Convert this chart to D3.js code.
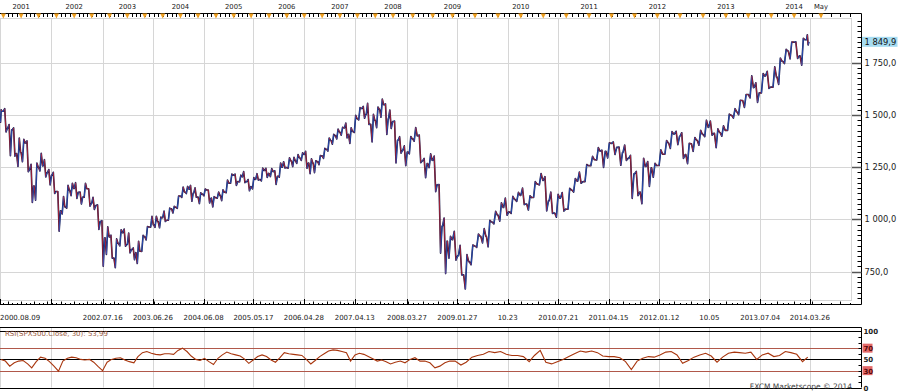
<!DOCTYPE html>
<html>
<head>
<meta charset="utf-8">
<script src="https://cdn.jsdelivr.net/npm/d3@7"></script>
<style>
  html, body { margin: 0; padding: 0; background: #fff; }
  svg { display: block; font-family: "DejaVu Sans", Verdana, sans-serif; }
</style>
</head>
<body>
<svg id="chart" width="900" height="392"></svg>
<script>
// monthly OHLC, Aug 2000 .. Mar 2014 (SPX500)
const firstMonth = new Date(2000, 7, 1);
const endMonth = new Date(2014, 3, 1);

const opens = [
  1472, 1518, 1437, 1429, 1315,
  1320, 1366, 1240, 1160, 1250, 1256, 1224, 1211, 1134, 1041, 1060, 1140,
  1148, 1130, 1107, 1147, 1077, 1067, 990, 912, 916, 815, 886, 936,
  880, 856, 841, 848, 917, 964, 975, 990, 1008, 996, 1051, 1058,
  1112, 1131, 1145, 1126, 1107, 1121, 1141, 1102, 1104, 1115, 1130, 1174,
  1212, 1181, 1204, 1181, 1157, 1192, 1191, 1234, 1220, 1229, 1207, 1250,
  1248, 1280, 1281, 1295, 1311, 1270, 1270, 1277, 1304, 1336, 1378, 1401,
  1418, 1438, 1407, 1421, 1482, 1531, 1503, 1455, 1474, 1527, 1549, 1481,
  1468, 1379, 1331, 1323, 1386, 1400, 1280, 1267, 1283, 1166, 969, 896,
  903, 826, 735, 798, 873, 919, 919, 988, 1021, 1057, 1036, 1096,
  1115, 1074, 1105, 1169, 1187, 1089, 1031, 1102, 1049, 1141, 1183, 1181,
  1258, 1286, 1327, 1326, 1364, 1345, 1321, 1292, 1219, 1131, 1253, 1247,
  1258, 1312, 1366, 1409, 1398, 1310, 1362, 1379, 1407, 1441, 1412, 1416,
  1426, 1498, 1515, 1569, 1598, 1631, 1606, 1686, 1633, 1682, 1757, 1806,
  1848, 1783, 1860
];
const highs = [
  1525, 1530, 1454, 1438, 1389,
  1384, 1376, 1264, 1270, 1316, 1286, 1239, 1226, 1134, 1110, 1163, 1173,
  1176, 1131, 1173, 1147, 1106, 1070, 994, 965, 925, 907, 951, 954,
  935, 864, 896, 924, 966, 1015, 1015, 1011, 1040, 1054, 1063, 1112,
  1155, 1158, 1163, 1151, 1128, 1146, 1141, 1109, 1131, 1142, 1188, 1217,
  1217, 1212, 1229, 1191, 1200, 1219, 1246, 1245, 1243, 1233, 1270, 1276,
  1295, 1297, 1310, 1319, 1326, 1290, 1281, 1306, 1340, 1390, 1407, 1432,
  1441, 1461, 1439, 1498, 1535, 1541, 1556, 1503, 1538, 1576, 1553, 1524,
  1471, 1396, 1352, 1397, 1440, 1404, 1292, 1314, 1303, 1167, 1007, 919,
  943, 876, 832, 878, 930, 956, 996, 1039, 1080, 1102, 1111, 1130,
  1150, 1113, 1181, 1220, 1205, 1131, 1120, 1129, 1149, 1196, 1227, 1263,
  1302, 1344, 1332, 1367, 1371, 1346, 1356, 1307, 1230, 1293, 1277, 1269,
  1333, 1378, 1420, 1422, 1415, 1364, 1392, 1427, 1475, 1471, 1434, 1448,
  1504, 1530, 1570, 1598, 1687, 1654, 1698, 1709, 1730, 1772, 1814, 1849,
  1850, 1867, 1884
];
const lows = [
  1465, 1419, 1305, 1303, 1254,
  1276, 1228, 1081, 1092, 1232, 1203, 1165, 1124, 944, 1026, 1054, 1114,
  1101, 1074, 1106, 1063, 1048, 952, 776, 833, 815, 769, 873, 872,
  840, 807, 789, 847, 902, 963, 962, 960, 990, 996, 1031, 1053,
  1105, 1124, 1087, 1106, 1076, 1113, 1079, 1060, 1102, 1090, 1128, 1173,
  1163, 1180, 1176, 1137, 1146, 1188, 1184, 1201, 1205, 1168, 1202, 1246,
  1245, 1253, 1268, 1282, 1245, 1219, 1224, 1262, 1292, 1327, 1360, 1385,
  1403, 1390, 1364, 1416, 1476, 1484, 1454, 1371, 1439, 1489, 1407, 1435,
  1270, 1317, 1257, 1314, 1374, 1272, 1200, 1248, 1133, 839, 741, 815,
  805, 735, 667, 783, 866, 888, 869, 979, 992, 1020, 1029, 1086,
  1071, 1045, 1105, 1165, 1041, 1029, 1011, 1040, 1049, 1131, 1173, 1181,
  1257, 1284, 1249, 1294, 1311, 1259, 1282, 1101, 1114, 1075, 1158, 1202,
  1258, 1312, 1340, 1358, 1292, 1267, 1326, 1355, 1396, 1403, 1343, 1398,
  1426, 1485, 1501, 1536, 1581, 1560, 1605, 1627, 1633, 1646, 1746, 1768,
  1770, 1738, 1835
];
const closes = [
  1517.7, 1436.5, 1429.4, 1315.2, 1320.3,
  1366.0, 1239.9, 1160.3, 1249.5, 1255.8, 1224.4, 1211.2, 1133.6, 1040.9, 1059.8, 1139.5, 1148.1,
  1130.2, 1106.7, 1147.4, 1076.9, 1067.1, 989.8, 911.6, 916.1, 815.3, 885.8, 936.3, 879.8,
  855.7, 841.2, 848.2, 916.9, 963.6, 974.5, 990.3, 1008.0, 996.0, 1050.7, 1058.2, 1111.9,
  1131.1, 1144.9, 1126.2, 1107.3, 1120.7, 1140.8, 1101.7, 1104.2, 1114.6, 1130.2, 1173.8, 1211.9,
  1181.3, 1203.6, 1180.6, 1156.9, 1191.5, 1191.3, 1234.2, 1220.3, 1228.8, 1207.0, 1249.5, 1248.3,
  1280.1, 1280.7, 1294.9, 1310.6, 1270.1, 1270.2, 1276.7, 1303.8, 1335.9, 1377.9, 1400.6, 1418.3,
  1438.2, 1406.8, 1420.9, 1482.4, 1530.6, 1503.4, 1455.3, 1474.0, 1526.8, 1549.4, 1481.1, 1468.4,
  1378.6, 1330.6, 1322.7, 1385.6, 1400.4, 1280.0, 1267.4, 1282.8, 1166.4, 968.8, 896.2, 903.3,
  825.9, 735.1, 797.9, 872.8, 919.1, 919.3, 987.5, 1020.6, 1057.1, 1036.2, 1095.6, 1115.1,
  1073.9, 1104.5, 1169.4, 1186.7, 1089.4, 1030.7, 1101.6, 1049.3, 1141.2, 1183.3, 1180.6, 1257.6,
  1286.1, 1327.2, 1325.8, 1363.6, 1345.2, 1320.6, 1292.3, 1218.9, 1131.4, 1253.3, 1247.0, 1257.6,
  1312.4, 1365.7, 1408.5, 1397.9, 1310.3, 1362.2, 1379.3, 1406.6, 1440.7, 1412.2, 1416.2, 1426.2,
  1498.1, 1514.7, 1569.2, 1597.6, 1630.7, 1606.3, 1685.7, 1633.0, 1681.6, 1756.5, 1805.8, 1848.4,
  1782.6, 1859.5, 1849.9
];
// RSI(30), read once per month
const rsi = [
  50, 47, 38, 44, 47,
  48, 42, 35, 46, 54, 52, 46, 38, 29, 47, 52, 54,
  53, 50, 49, 50, 45, 37, 30, 45, 50, 52, 53, 49,
  46, 44, 55, 62, 64, 61, 59, 58, 60, 60, 59, 66,
  70, 64, 56, 50, 48, 52, 46, 41, 52, 58, 63, 60,
  58, 56, 51, 43, 49, 55, 58, 55, 49, 45, 53, 62,
  60, 59, 58, 57, 50, 42, 48, 55, 60, 65, 67, 66,
  64, 62, 47, 58, 61, 59, 55, 51, 47, 49, 46, 42,
  45, 47, 44, 50, 53, 47, 47, 44, 35, 38, 44, 47,
  47, 40, 45, 54, 57, 59, 64, 62, 64, 59, 57, 57,
  55, 46, 57, 66, 45, 42, 46, 50, 55, 60, 65, 63,
  65, 62, 56, 55, 55, 53, 46, 32, 47, 52, 55, 54,
  58, 63, 64, 58, 43, 48, 54, 58, 61, 56, 45, 54,
  61, 63, 62, 61, 63, 50, 58, 61, 55, 57, 64, 62,
  59, 46, 54
];

// x-axis grid dates and their labels
const gridDates = ["2000-08-09", "2001-07-27", "2002-07-16", "2003-06-26", "2004-06-08", "2005-05-17",
  "2006-04-28", "2007-04-13", "2008-03-27", "2009-01-27", "2009-10-23", "2010-07-21", "2011-04-15",
  "2012-01-12", "2012-10-05", "2013-07-04", "2014-03-26"];
const gridLabels = ["2000.08.09", "", "2002.07.16", "2003.06.26", "2004.06.08", "2005.05.17",
  "2006.04.28", "2007.04.13", "2008.03.27", "2009.01.27", "10.23", "2010.07.21", "2011.04.15",
  "2012.01.12", "10.05", "2013.07.04", "2014.03.26"];

const priceTicks = [750, 1000, 1250, 1500, 1750];
const rsiLevels = [100, 70, 50, 30, 0];
const rsiLabel = "RSI(SPX500.Close, 30): 53,99";
const lastPrice = 1849.9;

const parse = d3.timeParse("%Y-%m-%d");
const months = d3.timeMonth.range(firstMonth, endMonth);
const candles = months.map((m, i) => ({
  date: d3.timeDay.offset(m, 14),
  open: opens[i], high: highs[i], low: lows[i], close: closes[i], rsi: rsi[i]
}));

const svg = d3.select("#chart");
const plot = { left: 0, right: 852, top: 18, bottom: 300 };
const axisX = 861.5, topAxisY = 13.5, bottomAxisY = 304.5;
const rsiTop = 327.5;

// bars are placed by trading time, so the scale runs faster after 2009
const x = d3.scaleTime()
  .domain([new Date(2000, 7, 9), new Date(2008, 0, 1), new Date(2009, 0, 1), new Date(2014, 2, 27), new Date(2014, 4, 1)])
  .range([0, 393, 452.5, 810, 821]);
const y = d3.scaleLinear().domain([750, 1750]).range([271.7, 62.7]);
const yR = d3.scaleLinear().domain([0, 100]).range([387.5, 331.3]);

const locale = d3.formatLocale({ decimal: ",", thousands: " ", grouping: [3], currency: ["", ""] });
const fmt = locale.format(",.1f");

svg.append("defs").append("clipPath").attr("id", "clip")
  .append("rect").attr("x", plot.left).attr("y", plot.top)
  .attr("width", plot.right - plot.left).attr("height", plot.bottom - plot.top);

const grid = svg.append("g").attr("stroke", "#d6d6d6").attr("stroke-width", 1);
const gx = gridDates.map(d => Math.round(x(parse(d))) + 0.5);

// main grid
grid.selectAll(".v").data(gx).enter().append("line")
  .attr("x1", d => d).attr("x2", d => d).attr("y1", plot.top).attr("y2", plot.bottom);
grid.selectAll(".h").data(priceTicks).enter().append("line")
  .attr("x1", plot.left).attr("x2", plot.right)
  .attr("y1", d => Math.round(y(d)) + 0.5).attr("y2", d => Math.round(y(d)) + 0.5);
grid.append("rect").attr("x", plot.left + 0.5).attr("y", plot.top + 0.5)
  .attr("width", plot.right - plot.left - 1).attr("height", plot.bottom - plot.top)
  .attr("fill", "none");

// price trace: each month drawn open -> first extreme -> second extreme -> close
const pts = [];
candles.forEach((d, i) => {
  const prev = candles[Math.max(i - 1, 0)].date, next = candles[Math.min(i + 1, candles.length - 1)].date;
  const h = (x(next) - x(prev)) / 4;
  const cx = x(d.date);
  const up = d.close >= d.open;
  const a = up ? d.low : d.high, b = up ? d.high : d.low;
  pts.push([cx - h * 0.9, d.open], [cx - h * 0.3, a], [cx + h * 0.3, b], [cx + h * 0.9, d.close]);
});
const segs = d3.pairs(pts);
const cg = svg.append("g").attr("clip-path", "url(#clip)");
cg.append("path")
  .attr("d", d3.line().x(p => p[0]).y(p => y(p[1]))(pts))
  .attr("fill", "none").attr("stroke", "#151a48").attr("stroke-width", 1.6)
  .attr("stroke-linejoin", "round");
cg.selectAll(".seg").data(segs).enter().append("line")
  .attr("x1", s => s[0][0]).attr("y1", s => y(s[0][1]))
  .attr("x2", s => s[1][0]).attr("y2", s => y(s[1][1]))
  .attr("stroke", s => s[1][1] > s[0][1] ? "#2f5ad0" : "#cc2430")
  .attr("stroke-width", 0.9).attr("stroke-opacity", 0.85);

// top time axis
const topAx = svg.append("g");
topAx.append("line").attr("x1", 0).attr("x2", axisX).attr("y1", topAxisY).attr("y2", topAxisY)
  .attr("stroke", "#000");
const monthTicks = d3.timeMonth.range(new Date(2000, 8, 1), new Date(2014, 8, 1)).filter(d => x(d) < 856);
topAx.selectAll(".mt").data(monthTicks).enter().append("line")
  .attr("x1", d => Math.round(x(d)) + 0.5).attr("x2", d => Math.round(x(d)) + 0.5)
  .attr("y1", topAxisY).attr("y2", topAxisY + 3.5).attr("stroke", "#000");
const triDates = monthTicks.filter(d => d.getMonth() % 4 === 0);
topAx.selectAll(".tri").data(triDates).enter().append("path")
  .attr("d", d => { const cx = x(d); return `M${cx - 2.5},${topAxisY} L${cx + 2.5},${topAxisY} L${cx},${topAxisY + 5}Z`; })
  .attr("fill", "#f0a020");
topAx.selectAll(".yl").data(triDates.filter(d => d.getMonth() === 0 || (d.getFullYear() === 2014 && d.getMonth() === 4)))
  .enter().append("text")
  .attr("x", d => x(d)).attr("y", 9)
  .attr("text-anchor", "middle").attr("font-size", 6.8).attr("fill", "#222")
  .text(d => d.getMonth() === 0 ? d.getFullYear() : "May");

// bottom axis
const botAx = svg.append("g");
botAx.append("line").attr("x1", 0).attr("x2", axisX).attr("y1", bottomAxisY).attr("y2", bottomAxisY)
  .attr("stroke", "#000");
botAx.selectAll(".bt").data(monthTicks).enter().append("line")
  .attr("x1", d => Math.round(x(d)) + 0.5).attr("x2", d => Math.round(x(d)) + 0.5)
  .attr("y1", bottomAxisY).attr("y2", d => bottomAxisY - (d.getMonth() % 3 === 0 ? 3 : 1.5))
  .attr("stroke", "#000");
botAx.selectAll(".bm").data(gx).enter().append("line")
  .attr("x1", d => d).attr("x2", d => d).attr("y1", bottomAxisY).attr("y2", bottomAxisY - 5.5)
  .attr("stroke", "#000");
botAx.selectAll(".bl").data(gridDates).enter().append("text")
  .attr("x", (d, i) => i === 0 ? 0 : x(parse(d)))
  .attr("y", 320)
  .attr("text-anchor", (d, i) => i === 0 ? "start" : "middle")
  .attr("font-size", 7).attr("fill", "#222")
  .text((d, i) => gridLabels[i]);

// right price axis
const rAx = svg.append("g");
rAx.append("line").attr("x1", axisX).attr("x2", axisX).attr("y1", topAxisY).attr("y2", bottomAxisY)
  .attr("stroke", "#000");
const minorTicks = d3.range(625, 1976, 25).filter(v => y(v) > plot.top && y(v) < plot.bottom);
rAx.selectAll(".rm").data(minorTicks).enter().append("line")
  .attr("x1", axisX - 4).attr("x2", axisX)
  .attr("y1", d => Math.round(y(d)) + 0.5).attr("y2", d => Math.round(y(d)) + 0.5)
  .attr("stroke", "#000");
rAx.selectAll(".rM").data(priceTicks).enter().append("line")
  .attr("x1", plot.right).attr("x2", axisX)
  .attr("y1", d => Math.round(y(d)) + 0.5).attr("y2", d => Math.round(y(d)) + 0.5)
  .attr("stroke", "#555").attr("stroke-width", 1.5);
rAx.selectAll(".rl").data(priceTicks).enter().append("text")
  .attr("x", axisX + 3).attr("y", d => y(d) + 3)
  .attr("font-size", 8.3).attr("fill", "#222")
  .text(d => fmt(d));
rAx.append("rect").attr("x", axisX + 0.5).attr("y", y(lastPrice) - 5)
  .attr("width", 35.5).attr("height", 10).attr("fill", "#a6dcf2");
rAx.append("text").attr("x", axisX + 3).attr("y", y(lastPrice) + 3)
  .attr("font-size", 8.3).attr("fill", "#111").text(fmt(lastPrice));

// RSI panel
const rp = svg.append("g");
rp.selectAll(".rv").data(gx).enter().append("line")
  .attr("x1", d => d).attr("x2", d => d).attr("y1", rsiTop).attr("y2", yR(0))
  .attr("stroke", "#d6d6d6");
rp.append("line").attr("x1", 0).attr("x2", axisX).attr("y1", rsiTop).attr("y2", rsiTop)
  .attr("stroke", "#000");
rp.selectAll(".lv").data(rsiLevels).enter().append("line")
  .attr("x1", 0).attr("x2", axisX)
  .attr("y1", d => Math.round(yR(d)) + 0.5).attr("y2", d => Math.round(yR(d)) + 0.5)
  .attr("stroke", d => (d === 70 || d === 30) ? "#b0584a" : "#000")
  .attr("stroke-width", d => (d === 70 || d === 30) ? 1 : 1.2);
rp.append("line").attr("x1", axisX).attr("x2", axisX).attr("y1", rsiTop).attr("y2", yR(0))
  .attr("stroke", "#000");
rp.selectAll(".rt").data(d3.range(0, 101, 10)).enter().append("line")
  .attr("x1", axisX - 3).attr("x2", axisX)
  .attr("y1", d => Math.round(yR(d)) + 0.5).attr("y2", d => Math.round(yR(d)) + 0.5)
  .attr("stroke", "#000");

const rsiLine = d3.line().x(d => x(d.date)).y(d => yR(d.rsi));
rp.append("path").datum(candles).attr("d", rsiLine)
  .attr("fill", "none").attr("stroke", "#a8360e").attr("stroke-width", 1.1);

rp.selectAll(".lb").data(rsiLevels.filter(d => d === 70 || d === 30)).enter().append("rect")
  .attr("x", axisX + 1).attr("y", d => yR(d) - 4.5).attr("width", 10).attr("height", 9)
  .attr("fill", "#e46a6a");
rp.selectAll(".ll").data(rsiLevels).enter().append("text")
  .attr("x", axisX + 2).attr("y", d => yR(d) + 3)
  .attr("font-size", 7).attr("font-weight", "bold")
  .attr("fill", d => (d === 70 || d === 30) ? "#5a0a0a" : "#222")
  .text(d => d);

rp.append("text").attr("x", 5).attr("y", 335.5)
  .attr("font-size", 7).attr("fill", "#9a5a40").text(rsiLabel);
rp.append("text").attr("x", 852).attr("y", 389).attr("text-anchor", "end")
  .attr("font-size", 7.5).attr("fill", "#444").text("FXCM Marketscope \u00a9 2014");
</script>
</body>
</html>
